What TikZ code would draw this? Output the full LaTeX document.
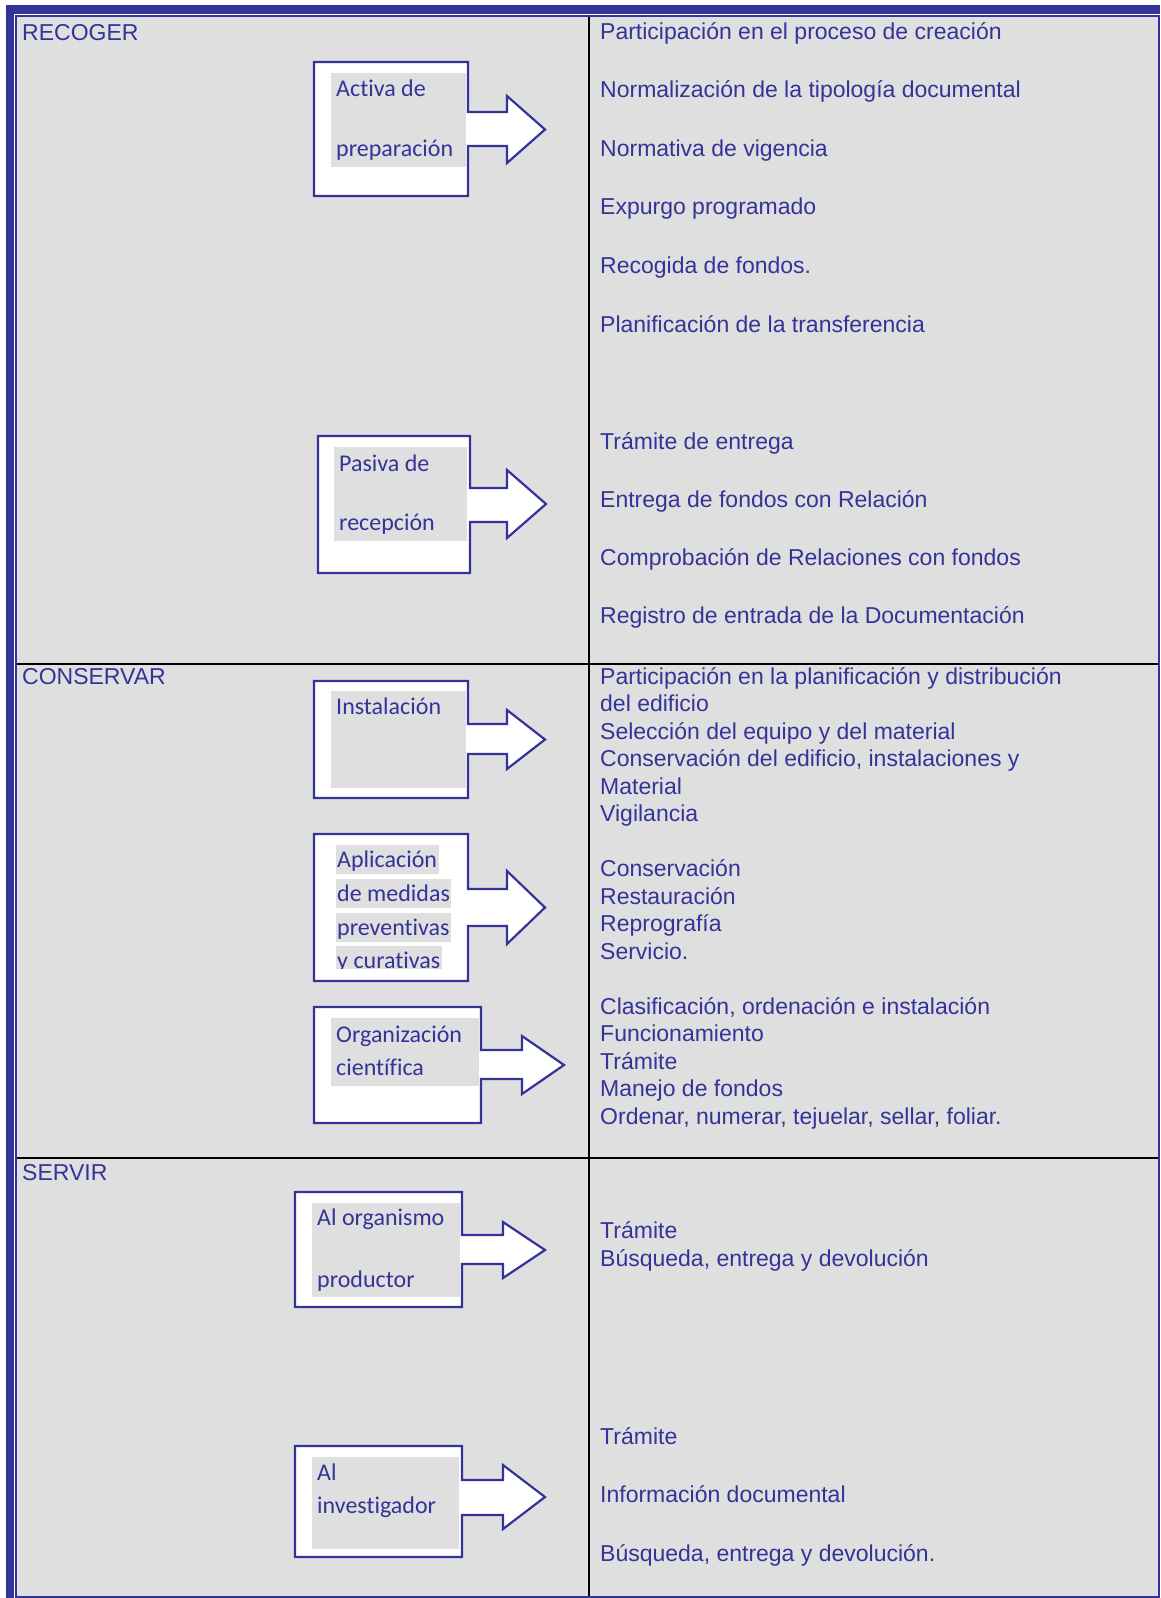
\documentclass[tikz,border=0pt]{standalone}
\usepackage{fontspec}
\setmainfont{Liberation Sans}
\newfontfamily\calib[Ligatures=NoCommon]{Carlito}
\definecolor{tblue}{RGB}{51,51,153}
\definecolor{cellgrey}{RGB}{223,223,223}
\begin{document}
\begin{tikzpicture}[x=1pt,y=-1pt,
  txt/.style={anchor=base west, inner sep=0pt, text=tblue, font=\fontsize{23}{23}\selectfont},
  lbl/.style={anchor=base west, inner sep=0pt, text=tblue, font=\calib\fontsize{24}{24}\selectfont},
  hl/.style={lbl, fill=cellgrey, text height=22pt, text depth=7pt, inner xsep=1.5pt},
  cbox/.style={draw=tblue, fill=white, line width=2.2pt, line join=miter},
  divider/.style={black, line width=2pt},
  ]
\useasboundingbox (0,0) rectangle (1160,1598);
\fill[white] (0,0) rectangle (1160,1598);
% frame
\fill[tblue] (6,5) rectangle (1160,14);
\fill[tblue] (6,5) rectangle (14,1598);
\draw[tblue, fill=cellgrey, line width=1.6pt] (16,16) rectangle (1159,1597);
% dividers
\draw[divider] (17,664) -- (1158,664);
\draw[divider] (17,1158) -- (1158,1158);
\draw[divider] (589,17) -- (589,1596);

% section headers
\node[txt] (recoger) at (22,40) {RECOGER};
\node[txt] (conservar) at (22,684) {CONSERVAR};
\node[txt] (servir) at (22,1180) {SERVIR};

% ---- callout boxes ----
% Activa
\draw[cbox] (314,62) -| (468,112) -- (507,112) -- (507,96) -- (545,129.5) -- (507,163) -- (507,146) -- (468,146) |- (314,196) -- cycle;
\fill[cellgrey] (331,73) rectangle (466,167);
\node[lbl] (activa1) at (336,96) {Activa de};
\node[lbl] (activa2) at (336,156) {preparación};
% Pasiva
\draw[cbox] (318,436) -| (470,488) -- (507,488) -- (507,470) -- (546,504) -- (507,538) -- (507,522) -- (470,522) |- (318,573) -- cycle;
\fill[cellgrey] (334,447) rectangle (467,541);
\node[lbl] (pasiva1) at (339,471) {Pasiva de};
\node[lbl] (pasiva2) at (339,530) {recepción};
% Instalacion
\draw[cbox] (314,681) -| (468,724) -- (507,724) -- (507,710) -- (545,739.5) -- (507,769) -- (507,754) -- (468,754) |- (314,798) -- cycle;
\fill[cellgrey] (331,691) rectangle (466,788);
\node[lbl] (instal) at (336,714) {Instalación};
% Aplicacion
\draw[cbox] (314,834) -| (468,889) -- (507,889) -- (507,871) -- (545,907.5) -- (507,944) -- (507,926) -- (468,926) |- (314,981) -- cycle;
\node[hl] (aplic1) at (335.5,867) {Aplicación};
\node[hl] (aplic2) at (335.5,901) {de medidas};
\node[hl] (aplic3) at (335.5,935) {preventivas};
\begin{scope}
\clip (320,940) rectangle (470,968.5);
\node[hl] (aplic4) at (335.5,968) {y curativas};
\end{scope}
% Organizacion
\draw[cbox] (314,1007) -| (481,1050) -- (522,1050) -- (522,1036) -- (564,1065) -- (522,1094) -- (522,1079) -- (481,1079) |- (314,1123) -- cycle;
\fill[cellgrey] (331,1018) rectangle (479,1086);
\node[lbl] (organ1) at (336,1042) {Organización};
\node[lbl] (organ2) at (336,1075) {científica};
% Al organismo
\draw[cbox] (295,1192) -| (462,1235) -- (503,1235) -- (503,1222) -- (545,1250) -- (503,1278) -- (503,1264) -- (462,1264) |- (295,1307) -- cycle;
\fill[cellgrey] (312,1203) rectangle (460,1297);
\node[lbl] (alorg1) at (317,1225) {Al organismo};
\node[lbl] (alorg2) at (317,1287) {productor};
% Al investigador
\draw[cbox] (295,1446) -| (462,1480) -- (503,1480) -- (503,1465) -- (545,1497) -- (503,1529) -- (503,1515) -- (462,1515) |- (295,1557) -- cycle;
\fill[cellgrey] (312,1457) rectangle (459,1549);
\node[lbl] (alinv1) at (317,1480) {Al};
\node[lbl] (alinv2) at (317,1513) {investigador};

% ---- right column ----
\node[txt] (a1) at (600,39) {Participación en el proceso de creación};
\node[txt] (a2) at (600,97) {Normalización de la tipología documental};
\node[txt] (a3) at (600,156) {Normativa de vigencia};
\node[txt] (a4) at (600,214) {Expurgo programado};
\node[txt] (a5) at (600,273) {Recogida de fondos.};
\node[txt] (a6) at (600,332) {Planificación de la transferencia};
\node[txt] (b1) at (600,449.5) {Trámite de entrega};
\node[txt] (b2) at (600,507.5) {Entrega de fondos con Relación};
\node[txt] (b3) at (600,565.5) {Comprobación de Relaciones con fondos};
\node[txt] (b4) at (600,623) {Registro de entrada de la Documentación};

\node[txt] (c1) at (600,684) {Participación en la planificación y distribución};
\node[txt] (c2) at (600,711.5) {del edificio};
\node[txt] (c3) at (600,739) {Selección del equipo y del material};
\node[txt] (c4) at (600,766.5) {Conservación del edificio, instalaciones y};
\node[txt] (c5) at (600,794) {Material};
\node[txt] (c6) at (600,821.5) {Vigilancia};
\node[txt] (d1) at (600,876.5) {Conservación};
\node[txt] (d2) at (600,904) {Restauración};
\node[txt] (d3) at (600,931.5) {Reprografía};
\node[txt] (d4) at (600,959) {Servicio.};
\node[txt] (e1) at (600,1014) {Clasificación, ordenación e instalación};
\node[txt] (e2) at (600,1041.5) {Funcionamiento};
\node[txt] (e3) at (600,1069) {Trámite};
\node[txt] (e4) at (600,1096.5) {Manejo de fondos};
\node[txt] (e5) at (600,1124) {Ordenar, numerar, tejuelar, sellar, foliar.};

\node[txt] (f1) at (600,1238.5) {Trámite};
\node[txt] (f2) at (600,1266) {Búsqueda, entrega y devolución};
\node[txt] (g1) at (600,1444.5) {Trámite};
\node[txt] (g2) at (600,1502.5) {Información documental};
\node[txt] (g3) at (600,1561.5) {Búsqueda, entrega y devolución.};
\end{tikzpicture}
\end{document}
